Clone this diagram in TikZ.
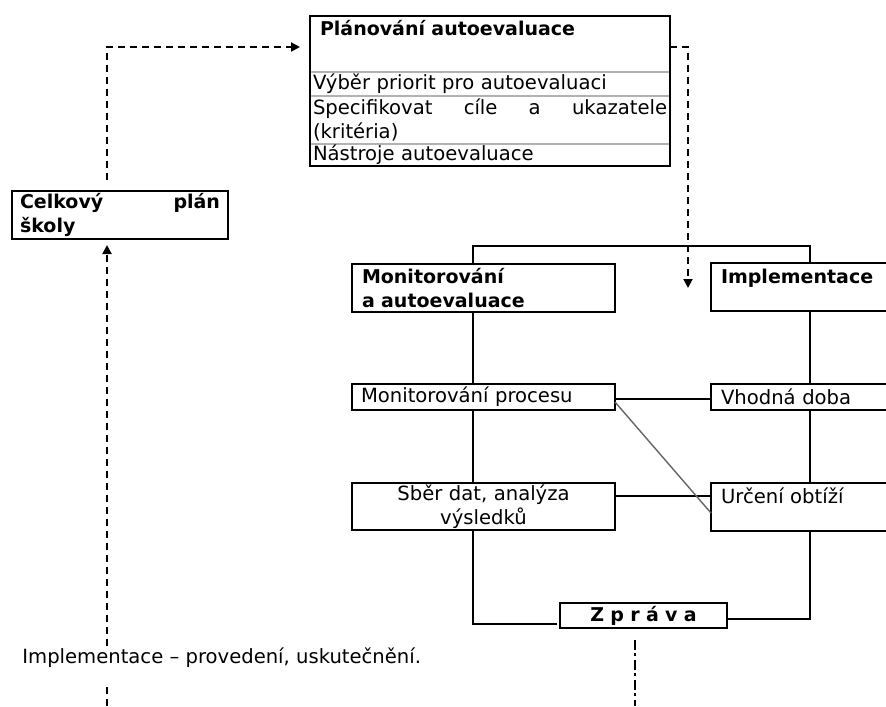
\documentclass[tikz,border=0pt]{standalone}
\usepackage{fontspec}
\setmainfont{DejaVu Sans}
\usetikzlibrary{arrows.meta, calc}
\tikzset{
  boxBase/.style={draw=black, line width=0.9pt, anchor=north west, outer sep=0pt,
    inner xsep=5pt, inner ysep=0pt, align=left, font=\fontsize{9.8}{12}\selectfont},
  boxBold/.style={boxBase, font=\fontsize{9.5}{12}\selectfont\bfseries},
  % Linhas internas do quadro de planejamento (cinza)
  rowBox/.style={boxBase, draw=gray!60, line width=0.6pt, inner xsep=1.5pt, text width=177pt},
  linkLine/.style={line width=0.8pt},
  diagLine/.style={line width=0.7pt, draw=gray!80!black},
  dashArrow/.style={line width=1pt, dash pattern=on 3.5pt off 2.5pt,
    -{Triangle[length=4.5pt, width=4.5pt]}},
  dashDot/.style={line width=1pt, dash pattern=on 5pt off 1.5pt on 1.5pt off 2pt}
}

\begin{document}
\begin{tikzpicture}[x=0.5pt, y=-0.5pt]
  \useasboundingbox (0,0) rectangle (886,706);
  \clip (0,0) rectangle (886,706);

  %% --- PARTE 1: QUADRO DE PLANEJAMENTO ---
  \node[rowBox, font=\fontsize{9.5}{12}\selectfont\bfseries, inner xsep=5pt, text width=170pt,
        text height=10pt, text depth=18pt] (planA) at (310,16) {Plánování autoevaluace};
  \node[rowBox, minimum height=12pt] (planB) at (planA.south west) {Výběr priorit pro autoevaluaci};
  \node[rowBox, minimum height=24pt] (planC) at (planB.south west)
    {Specifikovat\hfill cíle\hfill a\hfill ukazatele\\(kritéria)};
  \node[rowBox, minimum height=11pt] (planD) at (planC.south west) {Nástroje autoevaluace};
  % Contorno externo (PRETO)
  \draw[line width=0.9pt] (planA.north west) rectangle (planD.south east);

  % Plano geral da escola
  \node[boxBold, inner xsep=4pt, text width=100pt, minimum height=24pt] (celk) at (12,191)
    {Celkový\hfill plán\\školy};

  %% --- PARTE 2: AS DUAS COLUNAS ---
  \node[boxBold, text width=121.5pt, minimum height=24pt] (monit) at (352,264)
    {Monitorování\\a autoevaluace};
  \node[boxBold, text width=110pt, text height=10pt, text depth=14pt] (impl) at (711,263) {Implementace};

  \node[boxBase, inner xsep=4.5pt, text width=122.5pt, minimum height=13pt] (proc) at (352,384)
    {Monitorování procesu};
  \node[boxBase, text width=110pt, minimum height=13pt] (doba) at (711,384) {Vhodná doba};

  \node[boxBase, align=center, text width=121.5pt, minimum height=23.5pt] (sber) at (352,483)
    {Sběr dat, analýza\\výsledků};
  \node[boxBase, text width=110pt, text height=10pt, text depth=14pt] (obt) at (711,483) {Určení obtíží};

  \node[boxBold, align=center, text width=73.5pt, minimum height=12.5pt] (zprava) at (560,603)
    {Z p r á v a};

  % Barra superior e colunas verticais
  \coordinate (colL) at (473,246);
  \coordinate (colR) at (810,246);
  \draw[linkLine] (colL |- monit.north) -- (colL) -- (colR) -- (colR |- impl.north);
  \draw[linkLine] (colL |- monit.south) -- (colL |- proc.north);
  \draw[linkLine] (colL |- proc.south) -- (colL |- sber.north);
  \draw[linkLine] (colL |- sber.south) |- ([xshift=-1.5pt, yshift=-4.25pt]zprava.west);
  \draw[linkLine] (colR |- impl.south) -- (colR |- doba.north);
  \draw[linkLine] (colR |- doba.south) -- (colR |- obt.north);
  \draw[linkLine] (colR |- obt.south) |- ([yshift=-1.75pt]zprava.east);

  % Ligacoes horizontais e a diagonal (cinza)
  \draw[linkLine] ([yshift=-7.5pt]proc.north east) -- ([yshift=-7.5pt]doba.north west);
  \draw[linkLine] ([yshift=-6.5pt]sber.north east) -- ([yshift=-6.5pt]obt.north west);
  \draw[diagLine] ([yshift=-9pt]proc.north east) -- ([yshift=-15pt]obt.north west);

  %% --- PARTE 3: SETAS TRACEJADAS ---
  \draw[dashArrow] ([xshift=-6.5pt, yshift=5.5pt]celk.north) |- ([xshift=-5pt, yshift=-1.5pt]planA.west);
  \draw[dashArrow] ([yshift=-1.5pt]planA.east) -| ([xshift=-11.5pt, yshift=-12.5pt]impl.north west);

  \coordinate (baseL) at (107,706);
  \draw[dashArrow] (baseL) -- ([xshift=-6.5pt, yshift=-3pt]celk.south);

  \coordinate (baseM) at (635,706);
  \draw[dashDot] ([xshift=-4.25pt, yshift=-6pt]zprava.south) -- (baseM);

  % Nota (fundo branco interrompe a linha tracejada)
  \node[fill=white, anchor=base west, inner sep=0pt, text height=7.5pt, text depth=9.5pt,
        font=\fontsize{9.8}{12}\selectfont] (nota) at (22,663)
    {Implementace – provedení, uskutečnění.};
\end{tikzpicture}
\end{document}
